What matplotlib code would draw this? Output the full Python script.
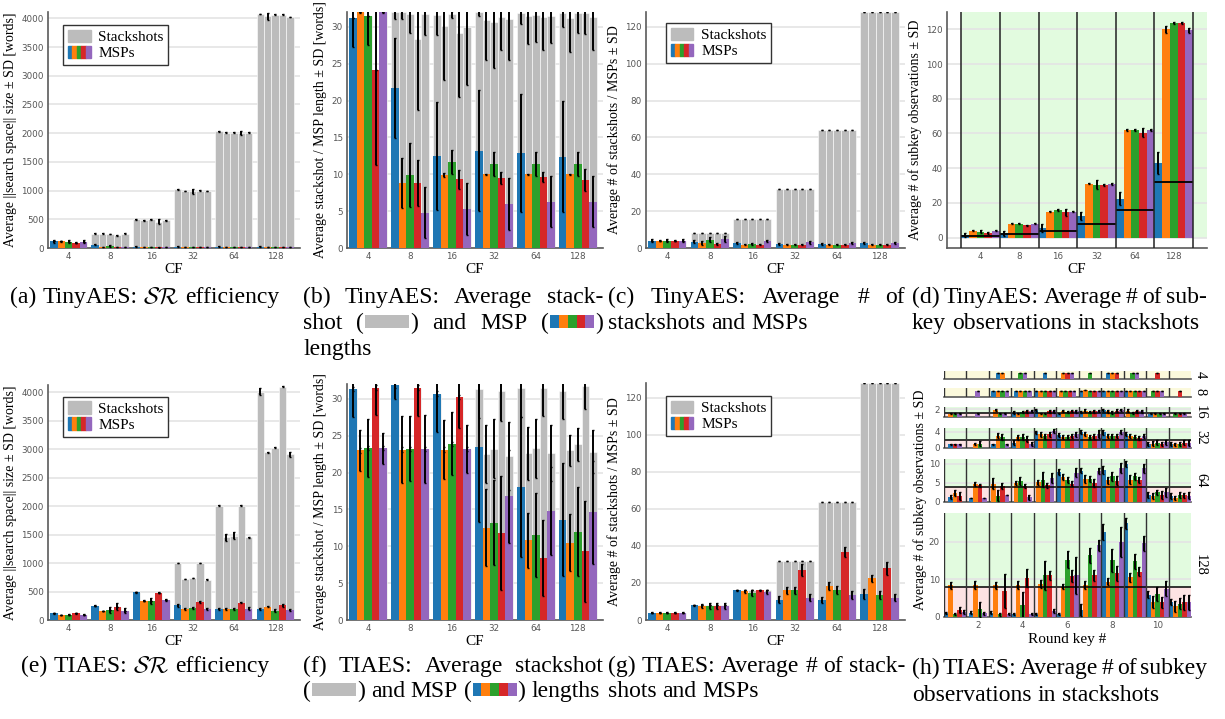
import re
import numpy as np
import matplotlib
matplotlib.use("Agg")
import matplotlib.pyplot as plt
from matplotlib.patches import Patch, Rectangle
from matplotlib.legend_handler import HandlerTuple

N = np.nan

# ====== DATA ======
CF = ["4", "8", "16", "32", "64", "128"]
SERIES_COLORS = ["#1f77b4", "#ff7f0e", "#2ca02c", "#d62728", "#9467bd"]
GRAY = "#bcbcbc"

# (a) TinyAES search space size
A_SS = [[115, 120, 110, 90, 110], [250, 250, 245, 220, 250], [500, 480, 500, 460, 480],
        [1020, 990, 985, 1000, 990], [2030, 2010, 2010, 2000, 2010], [4075, 4035, 4065, 4065, 4020]]
A_SS_ERR = [[0, 0, 0, 0, 0], [5, 5, 5, 5, 5], [5, 5, 5, 40, 5],
            [5, 5, 45, 5, 5], [5, 5, 5, 40, 5], [5, 60, 5, 5, 5]]
A_MSP = [[115, 120, 110, 90, 110], [60, 20, 35, 15, 20], [25, 15, 20, 10, 12],
         [25, 15, 15, 12, 12], [25, 15, 15, 12, 12], [25, 15, 15, 12, 12]]
A_MSP_ERR = [[30, 10, 30, 10, 30], [15, 5, 10, 5, 5], [5, 3, 5, 3, 3],
             [5, 3, 3, 3, 3], [5, 3, 3, 3, 3], [5, 3, 3, 3, 3]]

# (b) TinyAES lengths
B_SS = [[31.2, 32, 31.5, 24.2, 32], [32, 32, 31.7, 28.3, 31.7], [31.6, 30.1, 31.7, 29.2, 29.9],
        [32, 30.9, 30.6, 31.3, 31.0], [31.9, 31.5, 31.6, 31.3, 31.5], [31.9, 31.2, 31.8, 31.8, 31.3]]
B_SS_ERR = [[0, 0, 0, 0, 0], [1.0, 1.0, 2.6, 9.6, 2.8], [2.7, 7.3, 0.5, 8.7, 7.8],
            [0.5, 5.4, 6.2, 4.4, 5.5], [1.5, 3.8, 3.7, 4.5, 3.7], [1.9, 4.6, 2.7, 2.8, 4.5]]
B_MSP = [[31.2, 32, 31.5, 24.2, 32], [21.7, 8.8, 9.9, 8.8, 4.8], [12.5, 9.9, 11.7, 9.3, 5.3],
         [13.2, 10.0, 11.4, 9.5, 6.0], [12.9, 10.0, 11.4, 9.6, 6.3], [12.4, 10.0, 11.4, 9.2, 6.3]]
B_MSP_ERR = [[3.9, 0.1, 4.0, 12.9, 0.1], [6.8, 3.4, 4.3, 3.1, 3.5], [7.3, 0.3, 1.6, 1.3, 3.5],
             [8.2, 0.1, 1.6, 0.8, 3.5], [8.0, 0.1, 1.6, 0.7, 3.4], [7.5, 0.1, 1.6, 1.5, 3.4]]

# (c) TinyAES counts
C_SS = [[4] * 5, [8] * 5, [16] * 5, [32] * 5, [64] * 5, [128] * 5]
C_SS_ERR = [[0] * 5] * 6
C_MSP = [[4, 4, 4, 4, 4], [3.5, 2.7, 4.5, 2.2, 4.8], [2.6, 1.8, 2.2, 1.8, 3.8],
         [2.2, 1.8, 1.8, 1.8, 3.0], [2.3, 1.8, 1.8, 1.8, 2.8], [2.5, 1.8, 1.8, 1.8, 2.8]]
C_MSP_ERR = [[0.8, 0.2, 0.8, 0.2, 0.8], [1.0, 1.0, 1.3, 0.7, 1.5], [0.7, 0.2, 0.6, 0.2, 0.8],
             [0.6, 0.2, 0.2, 0.2, 0.6], [0.6, 0.2, 0.2, 0.2, 0.4], [0.6, 0.2, 0.2, 0.2, 0.4]]

# (d) TinyAES subkey observations
D_OBS = [[1.5, 4, 3.4, 2.8, 4], [2.5, 8, 8, 7, 8], [5.5, 15, 16, 14.5, 15],
         [12.5, 31, 30.5, 30.5, 31], [22.5, 62, 62, 60.5, 62], [43, 120, 123.5, 123.5, 119.5]]
D_ERR = [[1, 0.3, 0.8, 0.5, 0.3], [1.5, 0.3, 0.3, 0.3, 0.3], [2.5, 0.3, 0.4, 2, 0.4],
         [2.5, 0.4, 2.5, 0.5, 0.5], [4, 0.3, 0.3, 2.5, 0.3], [6.5, 2, 0.5, 0.5, 1.5]]
D_THR = [1, 2, 4, 8, 16, 32]

# (e) TIAES search space size
E_SS = [[120, 90, 90, 120, 90], [250, 160, 170, 230, 165], [490, 340, 335, 480, 355],
        [1000, 720, 740, 1000, 710], [2010, 1450, 1480, 2010, 1450], [4010, 2950, 3030, 4100, 2910]]
E_SS_ERR = [[0] * 5, [0] * 5, [0] * 5, [5, 5, 5, 5, 15], [5, 60, 60, 5, 10], [60, 10, 10, 5, 50]]
E_MSP = [[120, 90, 90, 120, 90], [250, 160, 170, 230, 165], [490, 340, 335, 480, 355],
         [255, 195, 205, 315, 190], [195, 195, 190, 305, 200], [190, 235, 165, 255, 175]]
E_MSP_ERR = [[10, 5, 10, 10, 10], [5, 5, 50, 60, 50], [10, 5, 50, 5, 15],
             [30, 15, 15, 15, 15], [15, 15, 15, 10, 20], [20, 10, 20, 30, 10]]

# (f) TIAES lengths
F_SS = [[31.3, 23.0, 23.3, 31.5, 23.3], [31.8, 23.1, 23.2, 31.5, 23.2], [30.7, 23.1, 23.9, 30.2, 23.2],
        [31.3, 22.5, 23.2, 31.1, 22.2], [31.4, 22.6, 23.3, 31.5, 22.7], [31.1, 23.0, 23.8, 31.7, 22.8]]
F_SS_ERR = [[0.3] * 5, [0.3] * 5, [0.3] * 5, [3.9, 3.9, 4.0, 4.1, 4.6],
            [3.9, 3.6, 4.0, 3.9, 3.8], [3.9, 2.1, 2.3, 3.1, 2.9]]
F_MSP = [[31.3, 23.0, 23.3, 31.5, 23.3], [31.8, 23.1, 23.2, 31.5, 23.2], [30.7, 23.1, 23.9, 30.2, 23.2],
         [23.4, 12.5, 13.2, 11.8, 16.8], [18.0, 10.8, 11.5, 8.4, 14.8], [13.6, 10.5, 12.0, 9.3, 14.6]]
F_MSP_ERR = [[3.8, 2.8, 3.9, 3.7, 2.1], [1.9, 4.5, 4.4, 3.8, 4.6], [5.2, 4.0, 4.3, 4.2, 3.3],
             [10.1, 5.2, 5.8, 7.7, 6.3], [9.5, 3.7, 5.7, 5.2, 6.0], [7.7, 3.9, 6.0, 6.8, 7.0]]

# (g) TIAES counts
G_SS = [[4] * 5, [8] * 5, [16] * 5, [32] * 5, [64] * 5, [128] * 5]
G_SS_ERR = [[0] * 5] * 6
G_MSP = [[4, 4, 4, 4, 4], [8, 7.4, 7.5, 7.5, 7.5], [16, 15.5, 14.5, 16, 15.3],
         [11, 16, 16, 27, 12], [10.8, 18.3, 16.3, 36.6, 13.5], [14, 22.5, 13.5, 28, 12]]
G_MSP_ERR = [[0.2] * 5, [0.3, 1, 1.6, 1.6, 1.6], [0.3, 0.7, 1.7, 0.2, 1],
             [2, 2, 2, 3, 2], [1.5, 2, 2.2, 2.6, 2], [2.5, 2, 2, 3.5, 1.8]]

# (h) TIAES subkey observations per round key (11 keys x 5 series), one table per CF
ROUND_KEYS = list(range(1, 12))
H_CF = [4, 8, 16, 32, 64, 128]
H_THR = [0.25, 0.5, 1, 2, 4, 8]
H4 = [[N] * 5, [N] * 5, [1, 1, N, N, N], [N, N, 1, N, 1], [1, N, N, N, N], [N, 1, N, 1, 1],
      [N, N, 1, N, N], [1, 1, N, 1, N], [N, N, 1, N, 1], [N, N, N, 1, N], [N] * 5]
H8 = [[N] * 5, [N, N, N, N, 1], [1, 1, 1, N, 1], [1, 1, 1, N, 1], [1, 1, 1, 1, 1], [N, 1, 1, 1, 1],
      [1, 1.1, 1, 1, 1], [1, 1, 1, 1, 1], [1, 1, 1, 1, 1], [N, N, 1, 1, 1], [N, N, N, 1, N]]
H16 = [[N, 0.9, 0.9, N, 0.9], [N, N, N, N, 0.9], [N, 1.8, 0.9, N, 0.9], [1.2, 0.9, 1.3, 1.5, 1.6],
       [1.8, 1.0, 0.9, 1.5, 1.5], [0.9, 1.6, 1.3, 1.6, 1.5], [1.4, 1.7, 1.4, 1.5, 1.6],
       [1.8, 1.5, 1.2, 1.7, 1.8], [N, 1.7, 1.1, 1.5, 1.5], [0.9, 0.9, 0.9, N, 0.9], [N, N, 0.9, 0.9, 0.9]]
H16_ERR = [[0, 0.1, 0.1, 0, 0.1], [0, 0, 0, 0, 0.1], [0, 0.3, 0.1, 0, 0.1], [0.3, 0.1, 0.3, 0.3, 0.3],
           [0.3, 0.1, 0.1, 0.3, 0.3], [0.1, 0.3, 0.3, 0.3, 0.3], [0.3, 0.3, 0.3, 0.3, 0.3],
           [0.3, 0.3, 0.3, 0.3, 0.3], [0, 0.3, 0.3, 0.3, 0.3], [0.1, 0.1, 0.1, 0, 0.1], [0, 0, 0.1, 0.1, 0.1]]
H32 = [[0.8, N, N, 0.8, 0.8], [N, 0.9, 1.0, N, N], [0.8, 3.0, 2.7, N, 0.8], [1.2, 2.6, 2.6, 2.2, 0.9],
       [3.8, 3.3, 2.8, 3.3, 4.1], [3.1, 2.7, 2.7, 3.0, 3.3], [3.8, 3.5, 2.6, 2.8, 3.4],
       [3.8, 2.8, 2.8, 2.8, 4.0], [3.5, 3.0, 2.6, 2.4, 3.0], [1.0, 1.0, 1.2, 0.9, 1.3], [0.9, 0.8, 1.0, 1.2, 1.2]]
H32_ERR = [[0.2, 0, 0, 0.2, 0.2], [0, 0.2, 0.6, 0, 0], [0.2, 0.7, 0.8, 0, 0.2], [0.6, 0.6, 0.8, 0.8, 0.6],
           [0.4, 0.6, 0.7, 0.6, 0.5], [0.5, 0.5, 0.5, 0.5, 0.6], [0.5, 0.5, 0.5, 0.6, 0.9],
           [0.6, 0.5, 0.6, 0.5, 0.5], [0.5, 0.5, 0.5, 0.5, 0.5], [0.5, 0.6, 0.6, 0.5, 0.7], [0.5, 0.4, 0.5, 0.6, 0.7]]
H64 = [[1.2, 2.3, N, 1.5, N], [0.9, 4.7, N, 4.3, 0.9], [N, 4.8, 1.6, 4.2, 1.8], [N, 4.9, 5.5, 4.2, 1.2],
       [N, 5.1, 5.8, 4.3, 6.2], [7.8, 6.4, 5.8, 4.8, 7.7], [8.2, 6.0, 6.0, 5.0, 8.0],
       [8.3, 5.6, 6.7, 5.5, 9.0], [10.0, 5.8, 6.7, 5.8, 8.8], [1.8, 1.6, 2.5, 1.8, 2.5], [1.5, 1.0, 1.8, 1.7, 1.6]]
H64_ERR = [[0.5, 0.8, 0, 1.0, 0], [0, 0.6, 0, 0.5, 0], [0, 1.5, 1.5, 0.8, 0], [0, 0.6, 1.0, 0.5, 0.7],
           [0, 0.6, 2.0, 0.6, 1.3], [0.8, 0.8, 0.8, 0.7, 1.2], [0.7, 1.0, 0.8, 1.0, 0.8],
           [1.0, 0.8, 1.2, 1.2, 1.3], [0.8, 1.2, 1.0, 0.8, 1.2], [0.8, 0.8, 0.7, 1.0, 1.2], [0.8, 0.6, 0.8, 0.7, 1.0]]
H128 = [[1.0, 8.3, 0.8, 1.8, 1.2], [1.1, 8.4, 2.0, N, 0.9], [1.0, 8.3, 0.6, 6.8, 0.8], [0.8, 8.4, 3.0, 10.3, 0.8],
        [0.8, 8.7, 11.0, 11.0, 1.5], [0.8, 8.0, 15.2, 10.8, 11.0], [1.8, 8.4, 16.3, 11.0, 19.0],
        [22.5, 9.3, 15.0, 11.6, 19.8], [24.8, 10.5, 14.7, 12.0, 19.5], [5.9, 3.9, 6.0, 3.8, 7.4], [3.8, 2.8, 3.5, 3.8, 3.8]]
H128_ERR = [[0.3, 1.0, 0.3, 0.8, 0.5], [0.5, 1.0, 2.0, 0, 0.4], [0.4, 0.8, 0.3, 4.5, 0.3], [0.3, 1.0, 3.5, 2.5, 0.3],
            [0.3, 1.0, 3.8, 1.2, 0.5], [0.3, 0.6, 2.3, 1.5, 5.0], [1.5, 1.0, 2.0, 1.5, 1.5],
            [2.2, 1.0, 3.0, 2.0, 4.0], [1.5, 1.2, 2.0, 1.2, 2.0], [1.0, 1.5, 1.8, 1.5, 2.0], [0.8, 1.5, 1.5, 2.0, 2.0]]
H_ZERO = [[0] * 5] * 11

# ====== STYLE ======
plt.rcParams["font.family"] = ["Liberation Serif", "DejaVu Serif"]
plt.rcParams["mathtext.fontset"] = "cm"
W, H = 1225, 719
fig = plt.figure(figsize=(W / 100, H / 100), dpi=100)
EK = dict(ecolor="black", elinewidth=1.4, capsize=0.7, capthick=1.0, zorder=5)
GREEN, PINK, YELLOW = "#e2fbdf", "#fde3e3", "#fbf9dc"
TICK_KW = dict(length=0, labelsize=6.3, labelcolor="#555555", pad=3, labelfontfamily="DejaVu Sans")
LABEL_SIZE = 10


def px_axes(l, t, r, b):
    return fig.add_axes([l / W, 1 - b / H, (r - l) / W, (b - t) / H])


def style(ax):
    for s in ["top", "right"]:
        ax.spines[s].set_visible(False)
    for s in ["left", "bottom"]:
        ax.spines[s].set_color("#5a5a5a")
        ax.spines[s].set_linewidth(1.2)
    ax.tick_params(**TICK_KW)
    ax.set_axisbelow(True)
    ax.yaxis.grid(True, color="#e4e4e4", lw=1.2)


def add_legend(ax, anchor):
    handles = [Patch(color=GRAY), tuple(Patch(color=c) for c in SERIES_COLORS)]
    leg = ax.legend(handles, ["Stackshots", "MSPs"], handler_map={tuple: HandlerTuple(ndivide=None, pad=0)},
                    loc="upper left", bbox_to_anchor=anchor, fontsize=11, fancybox=False,
                    edgecolor="#333333", framealpha=1, borderpad=0.3, handlelength=1.5,
                    handleheight=0.9, handletextpad=0.5, labelspacing=0.1, borderaxespad=0)
    leg.get_frame().set_linewidth(1.0)


def cf_panel(box, ss, ss_err, msp, msp_err, top, yticks, ylabel, legend=None):
    ax = px_axes(*box)
    style(ax)
    x = np.arange(len(CF))
    w = 0.18
    ss, ss_err = np.array(ss, float), np.array(ss_err, float)
    msp, msp_err = np.array(msp, float), np.array(msp_err, float)
    for j in range(5):
        ax.bar(x + (j - 2) * w, ss[:, j], w, color=GRAY, edgecolor="white", linewidth=0.4,
               yerr=ss_err[:, j], error_kw=EK, zorder=2)
    for j in range(5):
        ax.bar(x + (j - 2) * w, msp[:, j], w, color=SERIES_COLORS[j],
               yerr=msp_err[:, j], error_kw=EK, zorder=3)
    ax.set_xlim(-0.5, 5.6)
    ax.set_ylim(0, top)
    ax.set_xticks(x, CF)
    ax.set_yticks(yticks)
    ax.set_xlabel("CF", fontsize=11, labelpad=1)
    ax.set_ylabel(ylabel, fontsize=LABEL_SIZE, labelpad=3)
    if legend:
        add_legend(ax, legend)
    return ax


YL_SS = "Average ||search space|| size ± SD [words]"
YL_LEN = "Average stackshot / MSP length ± SD [words]"
YL_CNT = "Average # of stackshots / MSPs ± SD"
YL_OBS = "Average # of subkey observations ± SD"

cf_panel((48, 12, 300, 248), A_SS, A_SS_ERR, A_MSP, A_MSP_ERR, 4110, range(0, 4001, 500), YL_SS, (0.06, 0.945))
cf_panel((347, 12, 603, 248), B_SS, B_SS_ERR, B_MSP, B_MSP_ERR, 32, range(0, 31, 5), YL_LEN)
cf_panel((646, 12, 905, 248), C_SS, C_SS_ERR, C_MSP, C_MSP_ERR, 128, range(0, 121, 20), YL_CNT, (0.077, 0.953))
cf_panel((48, 385, 300, 620), E_SS, E_SS_ERR, E_MSP, E_MSP_ERR, 4130, range(0, 4001, 500), YL_SS, (0.06, 0.95))
cf_panel((347, 384, 603, 620), F_SS, F_SS_ERR, F_MSP, F_MSP_ERR, 32, range(0, 31, 5), YL_LEN)
cf_panel((646, 383, 905, 620), G_SS, G_SS_ERR, G_MSP, G_MSP_ERR, 128, range(0, 121, 20), YL_CNT, (0.077, 0.945))

# ====== (d) ======
ax = px_axes(947, 12, 1207, 248)
style(ax)
x = np.arange(len(CF))
obs, oerr = np.array(D_OBS, float), np.array(D_ERR, float)
ax.add_patch(Rectangle((-0.5, 0), 7, 200, color=GREEN, zorder=0.1, lw=0))
for j in range(5):
    ax.bar(x + (j - 2) * 0.2, obs[:, j], 0.2, color=SERIES_COLORS[j], yerr=oerr[:, j], error_kw=EK, zorder=3)
ax.hlines(D_THR, x - 0.5, x + 0.5, color="black", lw=1.3, zorder=4)
for xv in np.arange(-0.5, 6, 1):
    ax.axvline(xv, color="#222222", lw=1.1, zorder=4)
ax.set_xlim(-0.87, 5.86)
ax.set_ylim(-6, 130)
ax.set_xticks(x, CF)
ax.set_yticks(range(0, 121, 20))
ax.set_xlabel("CF", fontsize=11, labelpad=1)
ax.set_ylabel(YL_OBS, fontsize=LABEL_SIZE, labelpad=3)

# ====== (h) ======
h_rows = [
    (H4, H_ZERO, 1.35, [], (371, 378.5)),
    (H8, H_ZERO, 1.5, [], (387.5, 396.5)),
    (H16, H16_ERR, 2.5, [2], (407.3, 417.3)),
    (H32, H32_ERR, 5.0, [0, 4], (427.7, 447.5)),
    (H64, H64_ERR, 11.4, [0, 5, 10], (458.5, 501.7)),
    (H128, H128_ERR, 27.5, [0, 10, 20], (513.3, 616.7)),
]
for i, (vals, errs, top, yt, (t, b)) in enumerate(h_rows):
    ax = px_axes(944, t, 1191, b)
    style(ax)
    vals, errs = np.array(vals, float), np.array(errs, float)
    thr = H_THR[i]
    if H_CF[i] >= 16:
        ax.add_patch(Rectangle((0.5, 0), 11, thr, color=PINK, zorder=0.1, lw=0))
        ax.add_patch(Rectangle((0.5, thr), 11, 100, color=GREEN, zorder=0.1, lw=0))
        ax.axhline(thr, color="black", lw=1.1, zorder=4)
    else:
        ax.add_patch(Rectangle((0.5, 0), 11, 100, color=YELLOW, zorder=0.1, lw=0))
    for k, key in enumerate(ROUND_KEYS):
        present = np.where(~np.isnan(vals[k]))[0]
        n = len(present)
        for m, j in enumerate(present):
            ax.bar(key + (m - (n - 1) / 2) * 0.2, vals[k, j], 0.2, color=SERIES_COLORS[j],
                   yerr=errs[k, j], error_kw=EK, zorder=3)
    for xv in np.arange(0.5, 11, 1):
        ax.axvline(xv, color="#333333", lw=1.0, zorder=4)
    ax.spines["left"].set_visible(False)
    ax.set_xlim(0.5, 11.5)
    ax.set_ylim(0, top)
    ax.set_yticks(yt)
    if H_CF[i] == 128:
        ax.set_xticks([2, 4, 6, 8, 10])
        ax.set_xlabel("Round key #", fontsize=11, labelpad=2)
    else:
        ax.set_xticks([])
    ax.text(1.012, 0.5, str(H_CF[i]), transform=ax.transAxes, rotation=-90,
            va="center", ha="left", fontsize=10.5)
fig.text(920 / W, 1 - 500 / H, YL_OBS, rotation=90, va="center", ha="center", fontsize=LABEL_SIZE)

# ====== CAPTIONS ======
renderer = fig.canvas.get_renderer()
CAP_SIZE = 17
BOX_W, BOX_H = 44, 13


def draw_box(kind, x, base):
    y = 1 - (base - 1) / H
    if kind == "G":
        fig.add_artist(Rectangle((x / W, y), BOX_W / W, BOX_H / H, transform=fig.transFigure,
                                 color=GRAY, lw=0))
    else:
        sw = BOX_W / 5
        for j, c in enumerate(SERIES_COLORS):
            fig.add_artist(Rectangle(((x + j * sw) / W, y), sw / W, BOX_H / H,
                                     transform=fig.transFigure, color=c, lw=0))


def layout_word(word):
    return [p for p in re.split(r"(\[[GM]\])", word) if p]


def piece_width(p):
    if p in ("[G]", "[M]"):
        return BOX_W + 2
    t = fig.text(0, 0, p, fontsize=CAP_SIZE)
    wdt = t.get_window_extent(renderer).width
    t.remove()
    return wdt


def caption_line(text, x0, x1, base, mode):
    words = [layout_word(w) for w in text.split(" ")]
    widths = [sum(piece_width(p) for p in w) for w in words]
    space = piece_width("a b") - piece_width("ab")
    total = sum(widths)
    if mode == "justify" and len(words) > 1:
        gap = (x1 - x0 - total) / (len(words) - 1)
        xs = x0
    elif mode == "center":
        gap = space
        xs = (x0 + x1) / 2 - (total + gap * (len(words) - 1)) / 2
    else:
        gap = space
        xs = x0
    for w, wd in zip(words, widths):
        xp = xs
        for p in w:
            if p in ("[G]", "[M]"):
                draw_box(p[1], xp + 1, base)
            else:
                fig.text(xp / W, 1 - base / H, p, fontsize=CAP_SIZE, va="baseline", ha="left")
            xp += piece_width(p)
        xs += wd + gap


def caption(lines, x0, x1, base, step=26):
    for i, (txt, mode) in enumerate(lines):
        caption_line(txt, x0, x1, base + i * step, mode)


TOP, BOT = 303, 672
caption([(r"(a) TinyAES: $\mathcal{SR}$ efficiency", "center")], 0, 290, TOP)
caption([("(b) TinyAES: Average stack-", "justify"), ("shot ([G]) and MSP ([M])", "justify"),
         ("lengths", "left")], 303, 603, TOP)
caption([("(c) TinyAES: Average # of", "justify"), ("stackshots and MSPs", "left")], 608, 905, TOP)
caption([("(d) TinyAES: Average # of sub-", "justify"), ("key observations in stackshots", "left")],
        912, 1207, TOP)
caption([(r"(e) TIAES: $\mathcal{SR}$ efficiency", "center")], 0, 290, BOT)
caption([("(f) TIAES: Average stackshot", "justify"), ("([G]) and MSP ([M]) lengths", "left")],
        303, 603, BOT, step=25)
caption([("(g) TIAES: Average # of stack-", "justify"), ("shots and MSPs", "left")], 608, 905, BOT, step=25)
caption([("(h) TIAES: Average # of subkey", "justify"), ("observations in stackshots", "left")],
        912, 1207, BOT + 2, step=27)

fig.savefig("out.png", dpi=100)
